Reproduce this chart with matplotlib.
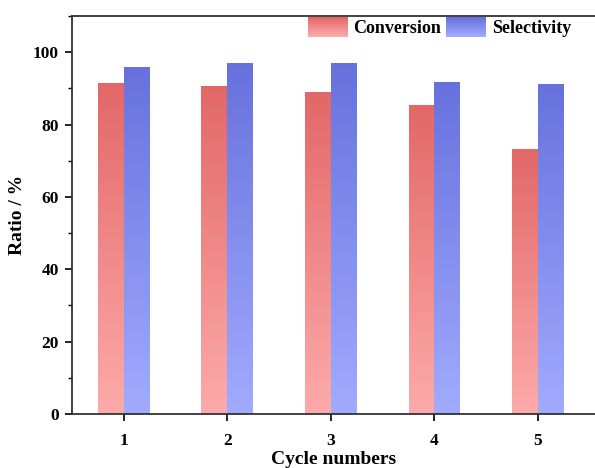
import numpy as np
import matplotlib
matplotlib.use("Agg")
import matplotlib.pyplot as plt
from matplotlib.colors import LinearSegmentedColormap
from matplotlib.patches import Rectangle
from matplotlib.legend_handler import HandlerBase
from matplotlib.ticker import MultipleLocator

# -------------------------
# DATA
# -------------------------
cycles = [1, 2, 3, 4, 5]
conversion = [91.5, 90.7, 89.0, 85.4, 73.3]
selectivity = [96.0, 96.9, 96.9, 91.8, 91.3]
series_names = ["Conversion", "Selectivity"]

# -------------------------
# STYLE
# -------------------------
plt.rcParams["font.family"] = ["Liberation Serif", "DejaVu Serif"]
plt.rcParams["font.weight"] = "bold"

RED_TOP, RED_BOTTOM = "#e36767", "#fdaaaa"
BLUE_TOP, BLUE_BOTTOM = "#6771dd", "#a1abfe"
BAR_W = 0.25


def gradient_bar(ax, x, h, top, bottom):
    cmap = LinearSegmentedColormap.from_list("g", [bottom, top])
    rect = Rectangle((x - BAR_W / 2, 0), BAR_W, h, facecolor="none",
                     edgecolor="none")
    ax.add_patch(rect)
    grad = np.linspace(0, 1, 256).reshape(-1, 1)
    im = ax.imshow(grad, cmap=cmap, origin="lower", aspect="auto",
                   extent=(x - BAR_W / 2, x + BAR_W / 2, 0, h), zorder=2)
    im.set_clip_path(rect)


class GradientHandler(HandlerBase):
    def __init__(self, top, bottom):
        super().__init__()
        self.top, self.bottom = top, bottom

    def create_artists(self, legend, orig_handle, xdescent, ydescent,
                       width, height, fontsize, trans):
        cmap = LinearSegmentedColormap.from_list("g", [self.bottom, self.top])
        n = 20
        arts = []
        for i in range(n):
            r = Rectangle((-xdescent, -ydescent + height * i / n), width,
                          height / n + 0.3, facecolor=cmap(i / (n - 1)),
                          edgecolor="none", transform=trans)
            arts.append(r)
        return arts


fig = plt.figure(figsize=(5.95, 4.68), dpi=100)
ax = fig.add_axes([72 / 595, 1 - 414 / 468, 1 - 72 / 595, (414 - 16) / 468])

for c, v1, v2 in zip(cycles, conversion, selectivity):
    gradient_bar(ax, c - BAR_W / 2, v1, RED_TOP, RED_BOTTOM)
    gradient_bar(ax, c + BAR_W / 2, v2, BLUE_TOP, BLUE_BOTTOM)

ax.set_xlim(0.5, 5.55)
ax.set_ylim(0, 110)
ax.set_xticks(cycles)
ax.yaxis.set_major_locator(MultipleLocator(20))
ax.yaxis.set_minor_locator(MultipleLocator(10))
ax.tick_params(axis="both", which="major", direction="out", length=5,
               width=1.2, labelsize=12.5)
ax.tick_params(axis="x", which="major", pad=9)
ax.tick_params(axis="y", which="major", pad=4.5)
ax.tick_params(axis="y", which="minor", direction="out", length=3, width=1.0)
ax.spines["right"].set_visible(False)
for s in ["left", "bottom", "top"]:
    ax.spines[s].set_linewidth(1.3)
    ax.spines[s].set_color("#333333")

ax.set_xlabel("Cycle numbers", fontsize=14, fontweight="bold", labelpad=1)
ax.set_ylabel("Ratio / %", fontsize=14, fontweight="bold", labelpad=5)

h1 = Rectangle((0, 0), 1, 1)
h2 = Rectangle((0, 0), 1, 1)
fig.legend([h1, h2], series_names, loc="upper left",
           bbox_to_anchor=(308 / 595, 1 - 17 / 468), ncol=2, frameon=False,
           fontsize=13, handlelength=2.2, handleheight=1.35,
           handletextpad=0.3, columnspacing=0.3, borderpad=0,
           borderaxespad=0,
           handler_map={h1: GradientHandler(RED_TOP, RED_BOTTOM),
                        h2: GradientHandler(BLUE_TOP, BLUE_BOTTOM)})

fig.savefig("out.png", dpi=100)
